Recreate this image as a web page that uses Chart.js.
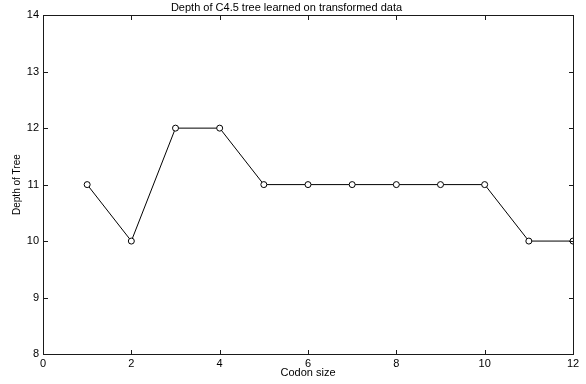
<!DOCTYPE html>
<html>
<head>
<meta charset="utf-8">
<script src="https://cdn.jsdelivr.net/npm/chart.js@4/dist/chart.umd.min.js"></script>
<style>
  html, body { margin: 0; padding: 0; background: #fff; }
  #wrap { width: 586px; height: 384px; }
</style>
</head>
<body>
<div id="wrap"><canvas id="c"></canvas></div>
<script>
// ===== Data =====
const codonSize = [1, 2, 3, 4, 5, 6, 7, 8, 9, 10, 11, 12];
const treeDepth = [11, 10, 12, 12, 11, 11, 11, 11, 11, 11, 10, 10];
const xTicks = [0, 2, 4, 6, 8, 10, 12];
const yTicks = [8, 9, 10, 11, 12, 13, 14];

Chart.defaults.font.family = "'Liberation Sans', Arial, sans-serif";
Chart.defaults.font.size = 11;
Chart.defaults.color = '#000';

const FRAME_COLOR = '#1a1a1a';

// box round the plot with short inward ticks on every side (filled 1px rects)
const frame = {
  id: 'frame',
  afterDraw(chart) {
    const ctx = chart.ctx, a = chart.chartArea;
    const sx = chart.scales.x, sy = chart.scales.y;
    const L = Math.round(a.left), R = Math.round(a.right);
    const T = Math.round(a.top), B = Math.round(a.bottom);
    ctx.save();
    ctx.globalAlpha = 1;
    ctx.globalCompositeOperation = 'source-over';
    ctx.fillStyle = FRAME_COLOR;
    ctx.fillRect(L, T, R - L + 1, 1);
    ctx.fillRect(L, B, R - L + 1, 1);
    ctx.fillRect(L, T, 1, B - T + 1);
    ctx.fillRect(R, T, 1, B - T + 1);
    xTicks.forEach(v => {
      const px = Math.round(sx.getPixelForValue(v));
      ctx.fillRect(px, B - 4, 1, 4);
      ctx.fillRect(px, T + 1, 1, 4);
    });
    yTicks.forEach(v => {
      const py = Math.round(sy.getPixelForValue(v));
      ctx.fillRect(L + 1, py, 4, 1);
      ctx.fillRect(R - 4, py, 4, 1);
    });
    ctx.restore();
  }
};

new Chart(document.getElementById('c'), {
  type: 'line',
  data: {
    datasets: [{
      data: codonSize.map((x, i) => ({ x, y: treeDepth[i] })),
      borderColor: '#000',
      borderWidth: 1,
      pointRadius: 3,
      pointBorderColor: '#000',
      pointBackgroundColor: '#fff'
    }]
  },
  options: {
    responsive: true,
    maintainAspectRatio: false,
    animation: false,
    layout: { padding: { right: 13 } },
    plugins: {
      legend: { display: false },
      title: {
        display: true,
        text: 'Depth of C4.5 tree learned on transformed data',
        color: '#000',
        font: { weight: 'normal' },
        padding: { top: 1, bottom: 1 }
      }
    },
    scales: {
      x: {
        type: 'linear',
        min: 0, max: 12,
        afterBuildTicks: s => { s.ticks = xTicks.map(v => ({ value: v })); },
        afterFit: s => { s.height = 30; },
        grid: { display: false, drawTicks: false },
        border: { display: true, color: FRAME_COLOR, width: 1 },
        ticks: { color: '#000', padding: 3 },
        title: { display: true, text: 'Codon size', color: '#000', padding: { top: 0, bottom: 4 } }
      },
      y: {
        min: 8, max: 14,
        afterBuildTicks: s => { s.ticks = yTicks.map(v => ({ value: v })); },
        afterFit: s => { s.width = 43; },
        grid: { display: false, drawTicks: false },
        border: { display: true, color: FRAME_COLOR, width: 1 },
        ticks: { color: '#000', padding: 4 },
        title: { display: true, text: 'Depth of Tree', color: '#000', font: { size: 10 }, padding: { top: 11, bottom: 0 } }
      }
    }
  },
  plugins: [frame]
});
</script>
</body>
</html>
